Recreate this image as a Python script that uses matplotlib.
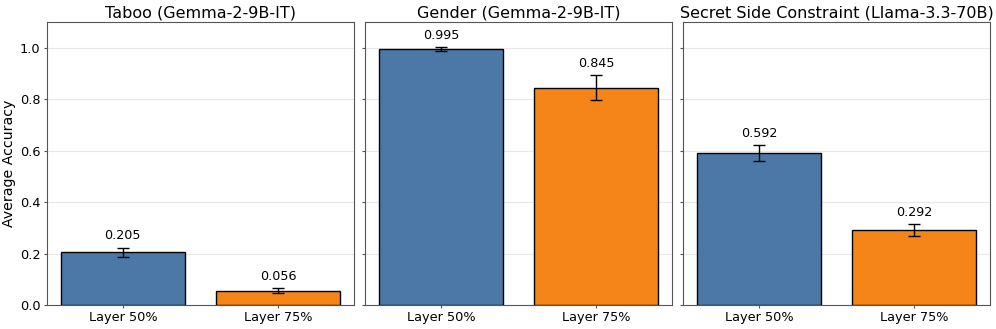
import matplotlib.pyplot as plt
import numpy as np

# data
panels = ['Taboo (Gemma-2-9B-IT)', 'Gender (Gemma-2-9B-IT)', 'Secret Side Constraint (Llama-3.3-70B)']
layers = ['Layer 50%', 'Layer 75%']
acc_taboo = [0.205, 0.056]
acc_gender = [0.995, 0.845]
acc_ssc = [0.592, 0.292]
err_taboo = [0.018, 0.009]
err_gender = [0.007, 0.049]
err_ssc = [0.031, 0.023]

colors = ['#4C78A8', '#F58518']

fig, axes = plt.subplots(1, 3, figsize=(9.96, 3.29), dpi=100, sharey=True)
x = np.arange(len(layers))
for ax, title, vals, errs in zip(axes, panels, [acc_taboo, acc_gender, acc_ssc], [err_taboo, err_gender, err_ssc]):
    ax.bar(x, vals, width=0.8, color=colors, edgecolor='black', linewidth=1.0,
           yerr=errs, capsize=4, error_kw={'elinewidth': 1.0, 'capthick': 1.0, 'ecolor': 'black'})
    for xi, v, e in zip(x, vals, errs):
        ax.text(xi, v + e + 0.02, f'{v:.3f}', ha='center', va='bottom', fontsize=9.2)
    ax.set_xticks(x)
    ax.set_xticklabels(layers, fontsize=9.3)
    ax.set_title(title, fontsize=11.5, pad=3)
    ax.set_ylim(0, 1.1)
    ax.grid(axis='y', alpha=0.3)
    ax.set_axisbelow(True)
    ax.tick_params(axis='both', length=2.4, pad=2.2, color='#555555')
    ax.tick_params(axis='y', labelsize=9.3)
    for s in ax.spines.values():
        s.set_color('#555555')

axes[0].set_ylabel('Average Accuracy', fontsize=10.2, labelpad=3)
plt.subplots_adjust(left=0.047, right=0.994, top=0.933, bottom=0.073, wspace=0.035)
plt.savefig('out.png')
